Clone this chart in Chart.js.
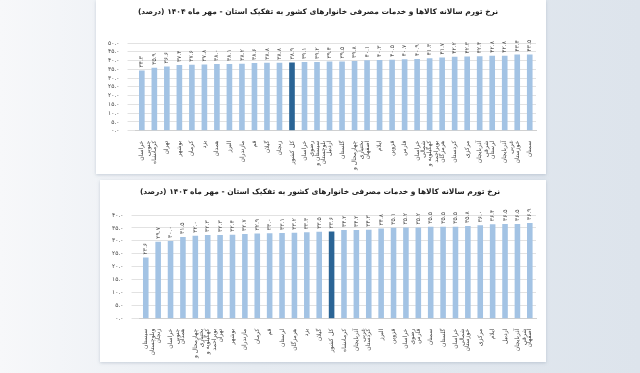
<!DOCTYPE html>
<html lang="fa">
<head>
<meta charset="utf-8">
<script src="https://cdn.jsdelivr.net/npm/chart.js@4.4.1/dist/chart.umd.min.js"></script>
<style>
  html,body{margin:0;padding:0;}
  body{width:640px;height:373px;overflow:hidden;position:relative;
       background:linear-gradient(90deg,#f7f8fa 0%,#e6ebf1 40%,#dde4ec 100%);}
  .panel{position:absolute;background:#fff;box-shadow:0 1px 3px rgba(120,140,160,0.35);}
  #p1{left:96px;top:0px;width:450px;height:174px;}
  #p2{left:100px;top:180px;width:446px;height:182px;}
  canvas{direction:rtl;}
</style>
</head>
<body>
<div class="panel" id="p1"><canvas id="chart1" dir="rtl"></canvas></div>
<div class="panel" id="p2"><canvas id="chart2" dir="rtl"></canvas></div>
<script>
const title1404 = "نرخ تورم سالانه کالاها و خدمات مصرفی خانوارهای کشور به تفکیک استان - مهر ماه ۱۴۰۴ (درصد)";
const title1403 = "نرخ تورم سالانه کالاها و خدمات مصرفی خانوارهای کشور به تفکیک استان - مهر ماه ۱۴۰۳ (درصد)";

const provinces1404 = ["خراسان جنوبی","کرمانشاه","تهران","بوشهر","کرمان","یزد","همدان","البرز","مازندران","قم","گیلان","زنجان","کل کشور","خراسان رضوی","سیستان و بلوچستان","اردبیل","گلستان","چهارمحال و بختیاری","اصفهان","ایلام","قزوین","فارس","خراسان شمالی","کهگیلویه و بویراحمد","هرمزگان","کردستان","مرکزی","آذربایجان شرقی","لرستان","آذربایجان غربی","خوزستان","سمنان"];
const inflation1404 = [34.3,35.9,36.6,37.4,37.6,37.8,38.0,38.1,38.2,38.6,38.8,38.8,38.9,39.1,39.2,39.4,39.5,39.8,40.1,40.3,40.5,40.7,40.9,41.3,41.7,42.2,42.3,42.4,42.8,42.8,43.4,43.5];
const yTicks1404 = [0,5,10,15,20,25,30,35,40,45,50];

const provinces1403 = ["سیستان وبلوچستان","زنجان","خراسان جنوبی","همدان","چهارمحال و بختیاری","کهگیلویه و بویراحمد","تهران","بوشهر","مازندران","کرمان","قم","لرستان","هرمزگان","یزد","گیلان","کل کشور","کرمانشاه","آذربایجان غربی","کردستان","البرز","قزوین","خراسان رضوی","فارس","سمنان","گلستان","خراسان شمالی","خوزستان","مرکزی","ایلام","اردبیل","آذربایجان شرقی","اصفهان"];
const inflation1403 = [23.6,29.7,30.0,31.5,32.0,32.3,32.3,32.4,32.7,32.9,33.0,33.1,33.2,33.3,33.5,33.6,34.2,34.2,34.3,34.8,35.1,35.2,35.2,35.5,35.5,35.5,35.8,36.0,36.4,36.5,36.5,36.9];
const yTicks1403 = [0,5,10,15,20,25,30,35,40];

const nationalLabel = "کل کشور";
const fontFamily = "'DejaVu Sans', 'Noto Sans', sans-serif";

function faDigits(s){
  return String(s).replace(/\d/g, d => "۰۱۲۳۴۵۶۷۸۹"[d]);
}

// long names go on two lines, like the wrapped axis labels of the original
function wrapName(name){
  const words = name.split(" ");
  if(words.length < 2 || name.length <= 9) return name;
  const half = Math.ceil(words.length / 2);
  return [words.slice(0, half).join(" "), words.slice(half).join(" ")];
}

// value labels written vertically above each bar
const valueLabels = {
  id: "valueLabels",
  afterDatasetsDraw(chart){
    const ctx = chart.ctx;
    const meta = chart.getDatasetMeta(0);
    const data = chart.data.datasets[0].data;
    ctx.save();
    ctx.font = "6px " + fontFamily;
    ctx.fillStyle = "#555";
    ctx.textAlign = "left";
    ctx.textBaseline = "middle";
    ctx.direction = "ltr";
    meta.data.forEach((bar, i) => {
      ctx.save();
      ctx.translate(bar.x, bar.y - 3);
      ctx.rotate(-Math.PI / 2);
      ctx.fillText(faDigits(data[i].toFixed(1)), 0, 0);
      ctx.restore();
    });
    ctx.restore();
  }
};

function makeChart(id, title, names, values, ticks, titleGap){
  const colors = names.map(l => l === nationalLabel ? "#2a6495" : "#a3c3e4");
  return new Chart(document.getElementById(id), {
    type: "bar",
    data: {
      labels: names.map(wrapName),
      datasets: [{data: values, backgroundColor: colors, barPercentage: 0.45, categoryPercentage: 1}]
    },
    options: {
      responsive: true,
      maintainAspectRatio: false,
      animation: false,
      layout: {padding: {left: 4, right: 10, top: 2, bottom: 2}},
      plugins: {
        legend: {display: false},
        tooltip: {enabled: false},
        title: {
          display: true, text: title, color: "#222",
          font: {family: fontFamily, size: 7.5, weight: "bold"},
          padding: {top: 6, bottom: titleGap}
        }
      },
      scales: {
        x: {
          grid: {display: false},
          border: {color: "#d0d0d0"},
          ticks: {
            color: "#444", autoSkip: false, maxRotation: 90, minRotation: 90,
            font: {family: fontFamily, size: 6, lineHeight: 1.1}, padding: 2
          }
        },
        y: {
          min: ticks[0], max: ticks[ticks.length - 1],
          afterBuildTicks: axis => { axis.ticks = ticks.map(v => ({value: v})); },
          grid: {color: "#e2e2e2"},
          border: {display: false},
          ticks: {
            color: "#444", autoSkip: false, font: {family: fontFamily, size: 6}, padding: 8,
            callback: v => faDigits(Number(v).toFixed(1))
          }
        }
      }
    },
    plugins: [valueLabels]
  });
}

makeChart("chart1", title1404, provinces1404, inflation1404, yTicks1404, 26);
makeChart("chart2", title1403, provinces1403, inflation1403, yTicks1403, 18);
</script>
</body>
</html>
